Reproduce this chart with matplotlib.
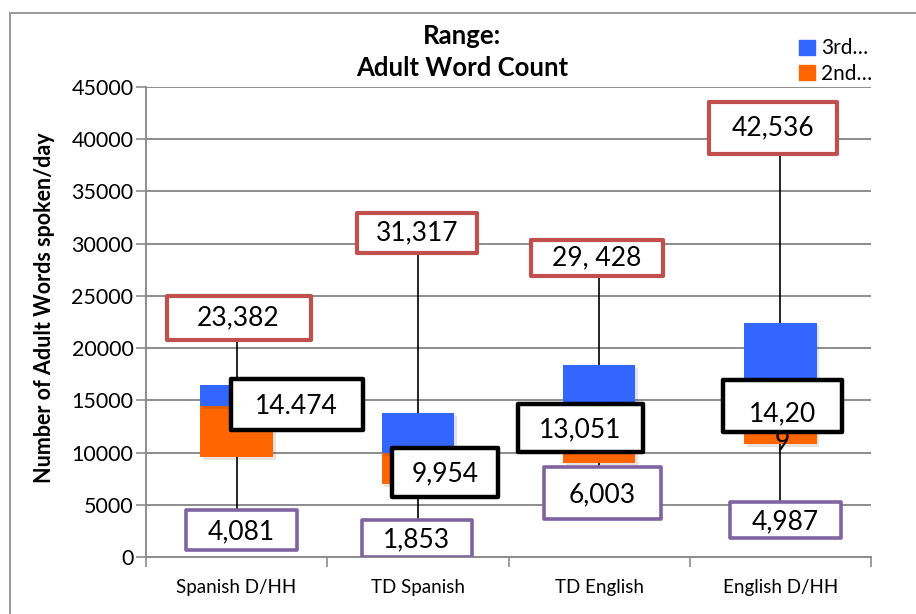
import numpy as np
import matplotlib
matplotlib.use("Agg")
import matplotlib.pyplot as plt
from matplotlib.patches import Rectangle, Patch
from matplotlib.lines import Line2D
import matplotlib.patheffects as pe

plt.rcParams['font.family'] = ['Lato', 'DejaVu Sans']

categories = ['Spanish D/HH', 'TD Spanish', 'TD English', 'English D/HH']
minimum = [4081, 1853, 6003, 4987]
q1 = [9600, 7000, 9000, 10800]
median = [14474, 9954, 13051, 14209]
q3 = [16500, 13800, 18400, 22400]
maximum = [23382, 31317, 29428, 42536]

max_labels = ['23,382', '31,317', '29, 428', '42,536']
median_labels = ['14.474', '9,954', '13,051', '14,20\n9']
min_labels = ['4,081', '1,853', '6,003', '4,987']
legend_labels = ['3rd\u2026', '2nd\u2026']

# callout layout (pixel offsets of box centre from category centre / value in px)
# each: (dx_px, y_px, w_px, h_px)
max_boxes = [(2, 318, 144, 44), (-1, 233, 120, 40), (-2, 258, 132, 36), (-7, 128, 128, 52)]
med_boxes = [(60, 405, 132, 51), (27, 472, 106, 49), (-19, 428, 125, 48), (2, 406, 119, 52)]
min_boxes = [(5, 530, 111, 40), (-1, 538, 110, 37), (3, 493, 117, 52), (5, 520, 111, 36)]

BLUE = '#3366FF'
ORANGE = '#FF6600'
RED = '#C0504D'
PURPLE = '#8064A2'
GRID = '#8C8C8C'

W, H = 916, 614
fig = plt.figure(figsize=(W / 100, H / 100), dpi=100)
ax_l, ax_r, ax_t, ax_b = 146, 871, 87, 557
ax = fig.add_axes([ax_l / W, 1 - ax_b / H, (ax_r - ax_l) / W, (ax_b - ax_t) / H])

x = np.arange(len(categories))
ymax = 45000
px_x = (ax_r - ax_l) / len(categories)
px_y = (ax_b - ax_t) / ymax

# whiskers
ax.vlines(x, minimum, maximum, color='black', lw=1.2, zorder=2)

shadow = [pe.SimplePatchShadow(offset=(2, -2), alpha=0.12), pe.Normal()]
lower = np.array(median) - np.array(q1)
upper = np.array(q3) - np.array(median)
b1 = ax.bar(x, lower, bottom=q1, width=0.4, color=ORANGE, zorder=3, label=legend_labels[1])
b2 = ax.bar(x, upper, bottom=median, width=0.4, color=BLUE, zorder=3, label=legend_labels[0])
for p in list(b1) + list(b2):
    p.set_path_effects(shadow)


def callout(i, text, box, color, lw, text_dy=0):
    dx, ypx, wpx, hpx = box
    cx = x[i] + dx / px_x
    cy = (ax_b - ypx) / px_y
    w = wpx / px_x
    h = hpx / px_y
    r = Rectangle((cx - w / 2, cy - h / 2), w, h, facecolor='white', edgecolor=color,
                  lw=lw, zorder=5, joinstyle='round')
    ax.add_patch(r)
    ax.text(cx, cy - text_dy / px_y, text, ha='center', va='center', fontsize=19,
            zorder=6, linespacing=1.2)


for i in range(len(categories)):
    callout(i, max_labels[i], max_boxes[i], RED, 3)
    callout(i, min_labels[i], min_boxes[i], PURPLE, 2.6, text_dy=2)
    if '\n' in median_labels[i]:
        callout(i, median_labels[i], med_boxes[i], 'black', 3.2, text_dy=22)
    else:
        callout(i, median_labels[i], med_boxes[i], 'black', 3.2, text_dy=2)

ax.set_xlim(-0.5, len(categories) - 0.5)
ax.set_ylim(0, ymax)
ax.set_yticks(np.arange(0, 45001, 5000))
ax.set_xticks(x)
ax.set_xticklabels(categories, fontsize=13.5)
ax.tick_params(axis='y', labelsize=15.5, length=7, color=GRID, width=1.2, pad=2)
ax.tick_params(axis='x', length=0, pad=16)
ax.set_xticks(np.arange(-0.5, len(categories), 1), minor=True)
ax.tick_params(axis='x', which='minor', length=7, color=GRID, width=1.2)
ax.grid(axis='y', color=GRID, lw=1.4, zorder=0)
ax.set_axisbelow(True)
for s in ['top', 'right']:
    ax.spines[s].set_visible(False)
for s in ['left', 'bottom']:
    ax.spines[s].set_color(GRID)
    ax.spines[s].set_linewidth(1.4)

ax.set_ylabel('Number of Adult Words spoken/day', fontsize=15.5, fontweight='bold')
ax.yaxis.set_label_coords(-91 / (ax_r - ax_l), (ax_b - 308) / (ax_b - ax_t))

fig.text(462 / W, 1 - 52 / H, 'Range:\nAdult Word Count', ha='center', va='center',
         fontsize=18.5, fontweight='bold', linespacing=1.35)

handles = [Patch(color=BLUE), Patch(color=ORANGE)]
fig.legend(handles, legend_labels, loc='upper left', bbox_to_anchor=(789 / W, 1 - 28 / H),
           frameon=False, fontsize=15, handlelength=0.75, handleheight=0.75,
           handletextpad=0.3, labelspacing=0.25, borderpad=0)

# outer chart frame
fig.add_artist(Line2D([10 / W, 1.01], [1 - 13 / H, 1 - 13 / H], color='#999999', lw=1.4,
                      transform=fig.transFigure))
fig.add_artist(Line2D([10 / W, 10 / W], [1 - 13 / H, -0.01], color='#999999', lw=1.4,
                      transform=fig.transFigure))

fig.savefig('out.png', dpi=100)
